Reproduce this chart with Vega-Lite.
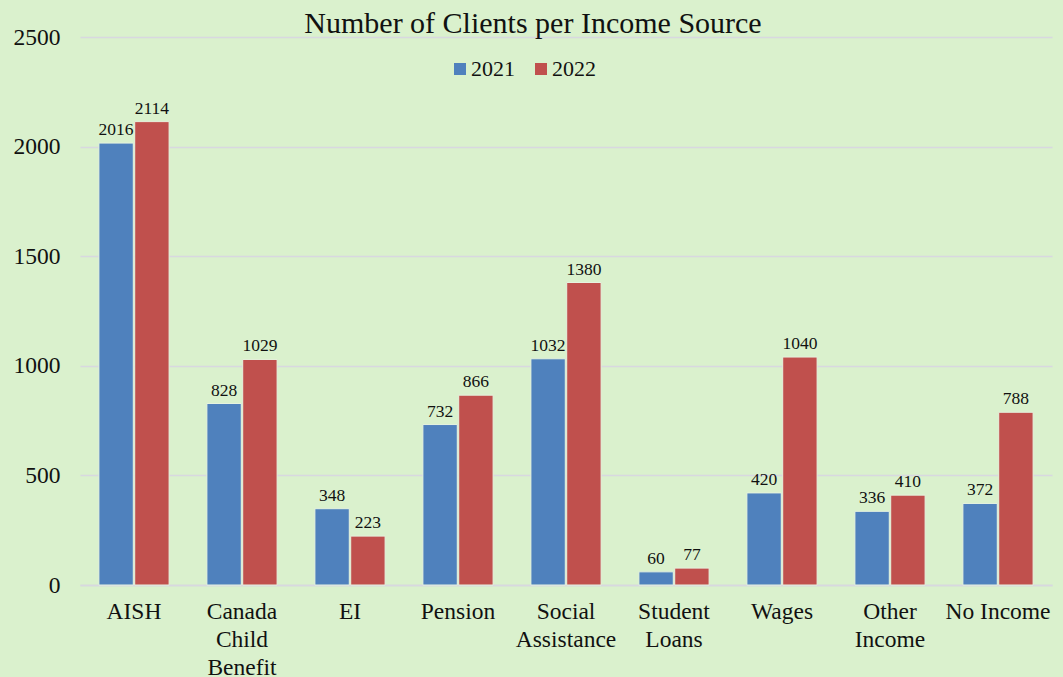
{
  "$schema": "https://vega.github.io/schema/vega-lite/v6.json",
  "autosize": "none",
  "width": 972,
  "height": 548,
  "padding": {"left": 80, "top": 37, "right": 11, "bottom": 92},
  "background": "#daf1cd",
  "title": {
    "text": "Number of Clients per Income Source",
    "font": "Liberation Serif",
    "fontSize": 30,
    "fontWeight": "normal",
    "color": "#111111",
    "anchor": "middle",
    "dx": -33,
    "offset": -14
  },
  "data": {
    "values": [
      {"source": "AISH", "year": "2021", "clients": 2016},
      {"source": "AISH", "year": "2022", "clients": 2114},
      {"source": "Canada Child Benefit", "year": "2021", "clients": 828},
      {"source": "Canada Child Benefit", "year": "2022", "clients": 1029},
      {"source": "EI", "year": "2021", "clients": 348},
      {"source": "EI", "year": "2022", "clients": 223},
      {"source": "Pension", "year": "2021", "clients": 732},
      {"source": "Pension", "year": "2022", "clients": 866},
      {"source": "Social Assistance", "year": "2021", "clients": 1032},
      {"source": "Social Assistance", "year": "2022", "clients": 1380},
      {"source": "Student Loans", "year": "2021", "clients": 60},
      {"source": "Student Loans", "year": "2022", "clients": 77},
      {"source": "Wages", "year": "2021", "clients": 420},
      {"source": "Wages", "year": "2022", "clients": 1040},
      {"source": "Other Income", "year": "2021", "clients": 336},
      {"source": "Other Income", "year": "2022", "clients": 410},
      {"source": "No Income", "year": "2021", "clients": 372},
      {"source": "No Income", "year": "2022", "clients": 788}
    ]
  },
  "encoding": {
    "x": {
      "field": "source",
      "type": "nominal",
      "sort": null,
      "scale": {"paddingInner": 0.35, "paddingOuter": 0.175},
      "axis": {
        "title": null,
        "labelAngle": 0,
        "labelFont": "Liberation Serif",
        "labelFontSize": 23.5,
        "labelColor": "#111111",
        "labelLineHeight": 28,
        "labelPadding": 14,
        "labelBaseline": "top",
        "ticks": false,
        "domain": true,
        "domainColor": "#d8d8e0",
        "domainWidth": 1.5,
        "labelExpr": "datum.label == 'No Income' ? datum.label : split(datum.label, ' ')"
      }
    },
    "xOffset": {"field": "year", "type": "nominal", "scale": {"paddingInner": 0.04}},
    "y": {
      "field": "clients",
      "type": "quantitative",
      "scale": {"domain": [0, 2500], "nice": false},
      "axis": {
        "title": null,
        "values": [0, 500, 1000, 1500, 2000, 2500],
        "format": "d",
        "labelFont": "Liberation Serif",
        "labelFontSize": 23.5,
        "labelColor": "#111111",
        "labelPadding": 20,
        "ticks": false,
        "domain": false,
        "grid": true,
        "gridColor": "#d8d8e0",
        "gridWidth": 1.5
      }
    }
  },
  "layer": [
    {
      "mark": {"type": "bar", "stroke": "#e6f3df", "strokeWidth": 1},
      "encoding": {
        "color": {
          "field": "year",
          "type": "nominal",
          "scale": {"domain": ["2021", "2022"], "range": ["#4f81bd", "#c0504d"]},
          "legend": {
            "title": null,
            "orient": "none",
            "direction": "horizontal",
            "legendX": 369,
            "legendY": 21,
            "symbolType": "square",
            "symbolSize": 144,
            "symbolStrokeWidth": 0,
            "labelFont": "Liberation Serif",
            "labelFontSize": 22,
            "labelColor": "#111111",
            "labelOffset": 0,
            "columnPadding": 15
          }
        }
      }
    },
    {
      "mark": {
        "type": "text",
        "baseline": "bottom",
        "dy": -4,
        "font": "Liberation Serif",
        "fontSize": 17.5,
        "color": "#111111"
      },
      "encoding": {
        "text": {"field": "clients", "type": "quantitative", "format": "d"}
      }
    }
  ],
  "config": {
    "view": {"stroke": null},
    "font": "Liberation Serif"
  }
}
